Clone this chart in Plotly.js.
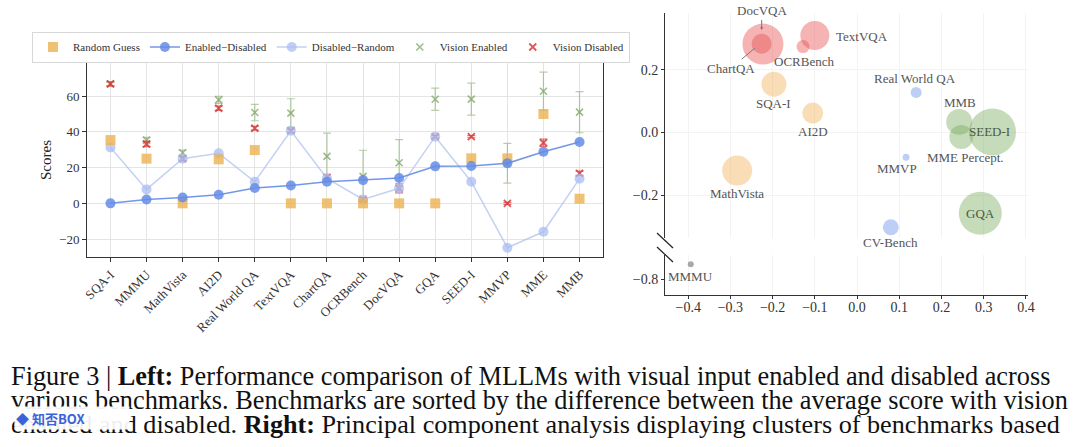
<!DOCTYPE html>
<html>
<head>
<meta charset="utf-8">
<script src="https://cdn.plot.ly/plotly-3.0.1.min.js"></script>
<style>
html,body{margin:0;padding:0;background:#fff;}
#chart{width:1080px;height:447px;}
</style>
</head>
<body>
<div id="chart"></div>
<script>
// ---------- Left panel data ----------
const categories = ["SQA-I","MMMU","MathVista","AI2D","Real World QA","TextVQA","ChartQA","OCRBench","DocVQA","GQA","SEED-I","MMVP","MME","MMB"];
const randomGuess = [35.4, 25, 0, 24.6, 29.8, 0, 0, 0, 0, 0, 25.2, 25.2, 50, 2.6];
const enabledMinusDisabled = [0, 2.2, 3.3, 4.8, 8.6, 10, 12.1, 13, 14.2, 20.7, 20.9, 22.4, 28.9, 34.3];
const disabledMinusRandom = [31.3, 7.8, 25, 28, 12.1, 40.6, 14, 2.2, 8.4, 37.3, 12.1, -24.8, -15.9, 13.8];
const visionEnabled = [66.8, 35.4, 28.3, 57.9, 50.8, 50.5, 26.3, 15.1, 22.7, 58.2, 58.3, 22.4, 62.7, 51.0];
const visionEnabledErr = [1.0, 1.5, 1.5, 2.0, 4.6, 8.0, 13.0, 14.6, 13.0, 6.2, 9.0, 11.1, 10.7, 11.5];
const visionDisabled = [66.8, 33.2, 25, 53.2, 42, 40.6, 14.5, 2.2, 8.4, 37.3, 37.3, 0, 33.9, 16.8];
const visionDisabledErr = [1.2, 1.5, 1.2, 1.2, 1.0, 1.0, 1.5, 1.0, 2.5, 0.8, 0.6, 0.6, 2.0, 1.2];

// ---------- Right panel (PCA) data ----------
const pcaNames = ["DocVQA","ChartQA","TextVQA","OCRBench","SQA-I","AI2D","MathVista","Real World QA","MMB","MME Percept.","SEED-I","MMVP","CV-Bench","GQA","MMMU"];
const pc1 = [-0.223,-0.226,-0.100,-0.128,-0.197,-0.105,-0.284,0.140,0.242,0.247,0.321,0.116,0.080,0.292,-0.394];
const pc2 = [0.282,0.283,0.309,0.274,0.154,0.062,-0.121,0.128,0.034,-0.014,0.002,-0.079,-0.302,-0.257,-0.752];
const bubbleSize = [41,20,29,13,25,21,30,11,26,24,47,7,16,43,6];
const cluster = ["ocr","ocr","ocr","ocr","knowledge","knowledge","knowledge","vision","general","general","general","vision","vision","general","other"];

const clusterColor = {
  ocr: "rgba(232,80,80,0.62)",
  knowledge: "rgba(240,175,80,0.6)",
  vision: "rgba(100,140,235,0.6)",
  general: "rgba(120,170,90,0.6)",
  other: "rgba(110,110,110,0.85)"
};

const FONT = "Liberation Serif, Times New Roman, serif";

const traces = [];

traces.push({
  x: categories, y: visionEnabled, type: "scatter", mode: "markers",
  name: "Vision Enabled", legendrank: 4,
  marker: {symbol: "x-thin", size: 7, color: "rgba(125,165,100,0.75)", line: {width: 1.6, color: "rgba(125,165,100,0.75)"}},
  error_y: {type: "data", array: visionEnabledErr, visible: true, color: "rgba(125,165,100,0.55)", thickness: 1.2, width: 4},
  xaxis: "x", yaxis: "y"
});
traces.push({
  x: categories, y: visionDisabled, type: "scatter", mode: "markers",
  name: "Vision Disabled", legendrank: 5,
  marker: {symbol: "x-thin", size: 7, color: "rgba(215,60,60,0.85)", line: {width: 1.8, color: "rgba(215,60,60,0.85)"}},
  error_y: {type: "data", array: visionDisabledErr, visible: true, color: "rgba(215,60,60,0.7)", thickness: 1.2, width: 4},
  xaxis: "x", yaxis: "y"
});
traces.push({
  x: categories, y: disabledMinusRandom, type: "scatter", mode: "lines+markers",
  name: "Disabled\u2212Random", legendrank: 3,
  line: {color: "rgba(170,190,240,0.7)", width: 1.5},
  marker: {size: 10, color: "rgba(170,190,240,0.75)"},
  xaxis: "x", yaxis: "y"
});
traces.push({
  x: categories, y: randomGuess, type: "scatter", mode: "markers",
  name: "Random Guess", legendrank: 1,
  marker: {symbol: "square", size: 10, color: "rgba(238,178,80,0.8)"},
  xaxis: "x", yaxis: "y"
});
traces.push({
  x: categories, y: enabledMinusDisabled, type: "scatter", mode: "lines+markers",
  name: "Enabled\u2212Disabled", legendrank: 2,
  line: {color: "rgba(100,140,230,0.9)", width: 1.5},
  marker: {size: 10, color: "rgba(100,140,230,0.85)"},
  xaxis: "x", yaxis: "y"
});

const topIdx = [], botIdx = [];
pcaNames.forEach((n, i) => { (pc2[i] < -0.5 ? botIdx : topIdx).push(i); });
function bubbleTrace(idx, yax) {
  return {
    x: idx.map(i => pc1[i]), y: idx.map(i => pc2[i]),
    text: idx.map(i => pcaNames[i]),
    type: "scatter", mode: "markers", showlegend: false, hoverinfo: "text",
    marker: {size: idx.map(i => bubbleSize[i]), sizemode: "diameter",
             color: idx.map(i => clusterColor[cluster[i]]), line: {width: 0}},
    xaxis: "x2", yaxis: yax
  };
}
traces.push(bubbleTrace(topIdx, "y2"));
traces.push(bubbleTrace(botIdx, "y3"));

const labelShift = {
  "TextVQA": {xs: 19, ys: -1, xa: "left"},
  "OCRBench": {xs: 1, ys: -15},
  "SQA-I": {xs: 0, ys: -19},
  "AI2D": {xs: 0, ys: -18},
  "MathVista": {xs: 0, ys: -23},
  "Real World QA": {xs: -1, ys: 14},
  "MMB": {xs: 1, ys: 19},
  "MME Percept.": {xs: 4, ys: -21},
  "SEED-I": {xs: -3, ys: 0, inside: true},
  "MMVP": {xs: -9, ys: -11},
  "CV-Bench": {xs: 0, ys: -15},
  "GQA": {xs: 0, ys: 0, inside: true},
  "MMMU": {xs: 0, ys: -12}
};
const annotations = [];
pcaNames.forEach((n, i) => {
  const s = labelShift[n];
  if (!s) return;
  annotations.push({
    x: pc1[i], y: pc2[i], xref: "x2", yref: pc2[i] < -0.5 ? "y3" : "y2",
    text: n, showarrow: false, xshift: s.xs, yshift: s.ys,
    xanchor: s.xa || "center", yanchor: "middle",
    font: {family: FONT, size: 13, color: s.inside ? "#4a5a40" : "#555"}
  });
});
const iDoc = pcaNames.indexOf("DocVQA"), iChart = pcaNames.indexOf("ChartQA");
annotations.push({
  x: pc1[iDoc] - 0.003, y: pc2[iDoc] + 0.045, xref: "x2", yref: "y2",
  text: "DocVQA", showarrow: true, arrowhead: 2, arrowsize: 0.6, arrowwidth: 1, arrowcolor: "#777",
  ax: 0, ay: -19, font: {family: FONT, size: 13, color: "#555"}
});
annotations.push({
  x: pc1[iChart] - 0.016, y: pc2[iChart] - 0.014, xref: "x2", yref: "y2",
  text: "ChartQA", showarrow: true, arrowhead: 0, arrowwidth: 1, arrowcolor: "#777",
  ax: -24, ay: 20, font: {family: FONT, size: 13, color: "#555"}
});

const captionLines = [
  "Figure 3 | <b>Left:</b> Performance comparison of MLLMs with visual input enabled and disabled across",
  "various benchmarks. Benchmarks are sorted by the difference between the average score with vision",
  "enabled and disabled. <b>Right:</b> Principal component analysis displaying clusters of benchmarks based"
];
const capY = [376, 400, 424];
const capSize = [26.3, 26.3, 26.2];
captionLines.forEach((t, k) => {
  annotations.push({
    xref: "paper", yref: "paper", x: 9/1080, y: 1 - capY[k]/447,
    xanchor: "left", yanchor: "middle", showarrow: false, text: t,
    font: {family: FONT, size: capSize[k], color: "#111"}
  });
});
annotations.push({
  xref: "paper", yref: "paper", x: 14/1080, y: 1 - 418/447,
  xanchor: "left", yanchor: "middle", showarrow: false,
  text: "<b>\u25C6 知否BOX</b>", width: 112, height: 20, align: "left",
  bgcolor: "rgba(255,255,255,0.93)",
  font: {family: "Noto Sans CJK SC, sans-serif", size: 13, color: "#3b63d9"}
});

const shapes = [
  {type: "line", xref: "paper", yref: "paper", x0: 657/1080, x1: 673/1080, y0: 1-233/447, y1: 1-248/447, line: {color: "#222", width: 1.2}},
  {type: "line", xref: "paper", yref: "paper", x0: 657/1080, x1: 673/1080, y0: 1-247/447, y1: 1-262/447, line: {color: "#222", width: 1.2}}
];

const tickFont = {family: FONT, size: 13, color: "#333"};
const layout = {
  width: 1080, height: 447,
  margin: {l: 0, r: 0, t: 0, b: 0},
  paper_bgcolor: "#fff", plot_bgcolor: "#fff",
  font: {family: FONT, color: "#333"},
  showlegend: true,
  legend: {
    orientation: "h", x: 331/1080, y: 1 - 47/447, xanchor: "center", yanchor: "middle",
    bordercolor: "#d8d8d8", borderwidth: 1, bgcolor: "#fff",
    font: {family: FONT, size: 11, color: "#333"}, itemwidth: 30, tracegroupgap: 0
  },
  xaxis: {
    domain: [87/1080, 603/1080], anchor: "y", type: "category",
    range: [-0.65, 13.65], tickangle: -45, tickfont: tickFont,
    showline: true, mirror: true, linecolor: "#333", linewidth: 1,
    showgrid: true, gridcolor: "#e4e4e4", ticks: "outside", ticklen: 4, tickcolor: "#333",
    zeroline: false
  },
  yaxis: {
    domain: [1 - 257/447, 1 - 63/447], anchor: "x",
    range: [-30, 78.5], dtick: 20, tickfont: tickFont,
    showline: true, mirror: true, linecolor: "#333", linewidth: 1,
    showgrid: true, gridcolor: "#e4e4e4", ticks: "outside", ticklen: 4, tickcolor: "#333",
    zeroline: false,
    title: {text: "Scores", font: {family: FONT, size: 15, color: "#222"}, standoff: 3}
  },
  xaxis2: {
    domain: [665/1080, 1028/1080], anchor: "y3",
    range: [-0.455, 0.405], dtick: 0.1, tick0: 0, tickformat: ".1f",
    tickfont: {family: FONT, size: 14, color: "#333"},
    showline: true, linecolor: "#333", linewidth: 1, mirror: false,
    showgrid: true, gridcolor: "#f3f3f3", ticks: "outside", ticklen: 3, tickcolor: "#333",
    ticklabelstandoff: -4,
    zeroline: false
  },
  yaxis2: {
    domain: [1 - 238/447, 1 - 13/447], anchor: "x2",
    range: [-0.336, 0.381], tickvals: [-0.2, 0, 0.2], tickformat: ".1f",
    tickfont: {family: FONT, size: 14, color: "#333"},
    showline: true, linecolor: "#333", linewidth: 1, mirror: false,
    showgrid: true, gridcolor: "#f3f3f3", ticks: "outside", ticklen: 3, tickcolor: "#333",
    zeroline: false
  },
  yaxis3: {
    domain: [1 - 295/447, 1 - 255/447], anchor: "x2",
    range: [-0.85, -0.7225], tickvals: [-0.8], tickformat: ".1f",
    tickfont: {family: FONT, size: 14, color: "#333"},
    showline: true, linecolor: "#333", linewidth: 1, mirror: false,
    showgrid: false, ticks: "outside", ticklen: 3, tickcolor: "#333",
    zeroline: false
  },
  annotations: annotations,
  shapes: shapes
};

Plotly.newPlot("chart", traces, layout, {displayModeBar: false, staticPlot: true});
</script>
</body>
</html>
